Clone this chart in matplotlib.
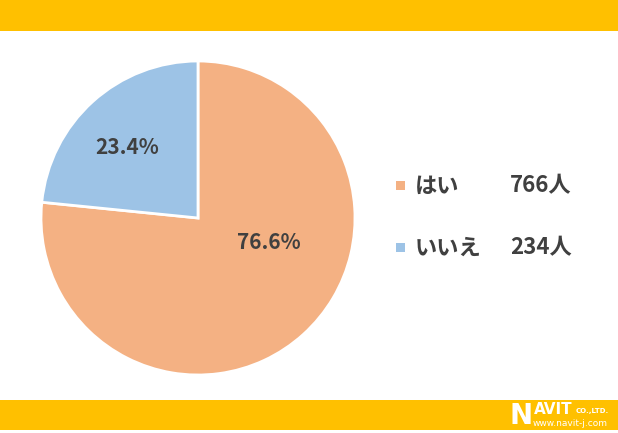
import matplotlib.pyplot as plt
import matplotlib.patches as mpatches

plt.rcParams['font.family'] = ['Noto Sans CJK JP', 'DejaVu Sans']

labels = ['はい', 'いいえ']
counts = [766, 234]
colors = ['#F4B183', '#9DC3E6']
count_labels = ['766人', '234人']

W, H = 618, 433
fig = plt.figure(figsize=(W / 100, H / 100), dpi=100)
fig.patch.set_facecolor('white')

# yellow bands
bg = fig.add_axes([0, 0, 1, 1])
bg.set_xlim(0, W)
bg.set_ylim(H, 0)
bg.axis('off')
bg.add_patch(mpatches.Rectangle((0, 0), W, 31, color='#FFC000', lw=0))
bg.add_patch(mpatches.Rectangle((0, 400), W, 30, color='#FFC000', lw=0))

# logo
bg.text(510, 416, 'N', color='white', fontsize=20, fontweight='bold',
        va='center', ha='left', family='DejaVu Sans')
bg.text(534, 409, 'AVIT', color='white', fontsize=11, fontweight='bold',
        va='center', ha='left', family='DejaVu Sans')
bg.text(576, 411, 'CO.,LTD.', color='white', fontsize=5, fontweight='bold',
        va='center', ha='left', family='DejaVu Sans')
bg.text(533, 424, 'www.navit-j.com', color='white', fontsize=6.5,
        va='center', ha='left', family='DejaVu Sans')

# pie
cx, cy, r = 198, 218, 157
ax = fig.add_axes([(cx - r) / W, 1 - (cy + r) / H, 2 * r / W, 2 * r / H])
total = sum(counts)
wedges, texts = ax.pie(counts, colors=colors, startangle=90, counterclock=False,
                       wedgeprops=dict(edgecolor='white', linewidth=2))
ax.set_xlim(-1, 1)
ax.set_ylim(-1, 1)
pct = [f'{c / total * 100:.1f}%' for c in counts]
ax.text(0.45, -0.155, pct[0], ha='center', va='center', fontsize=15,
        fontweight='bold', color='#404040')
ax.text(-0.45, 0.45, pct[1], ha='center', va='center', fontsize=15,
        fontweight='bold', color='#404040')
ax.set_aspect('equal')

# legend
ys = [186, 248]
for lab, cl, col, y in zip(labels, count_labels, colors, ys):
    bg.add_patch(mpatches.Rectangle((396, y - 5), 9, 9, color=col, lw=0))
    bg.text(415, y, lab, fontsize=16, fontweight='bold', color='#404040',
            va='center', ha='left')
    bg.text(510, y, cl, fontsize=16, fontweight='bold', color='#404040',
            va='center', ha='left')

fig.savefig('out.png', dpi=100)
